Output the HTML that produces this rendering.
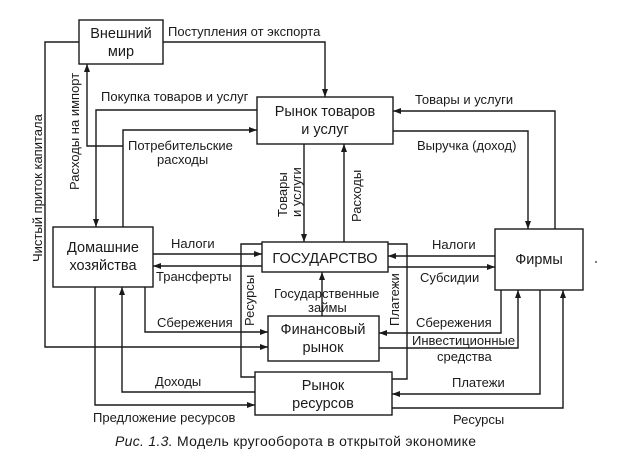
<!DOCTYPE html>
<html><head><meta charset="utf-8"><style>
html,body{margin:0;padding:0;background:#fff;}
svg{display:block;font-family:"Liberation Sans",sans-serif;}
text{fill:#1a1a1a;}
.l{font-size:13px;}
.b{font-size:14.5px;}
</style></head><body>
<svg width="623" height="466" viewBox="0 0 623 466" xmlns="http://www.w3.org/2000/svg">
<defs><marker id="a" markerWidth="8" markerHeight="6" refX="8" refY="3" orient="auto" markerUnits="userSpaceOnUse"><path d="M0,0 L8,3 L0,6 z" fill="#1a1a1a"/></marker></defs>
<g fill="none" stroke="#1a1a1a" stroke-width="1.4">
<rect x="79" y="20" width="84" height="44"/>
<rect x="257" y="97" width="136" height="47"/>
<rect x="53" y="227" width="100" height="60"/>
<rect x="262" y="242" width="126" height="30"/>
<rect x="495" y="229" width="88" height="61"/>
<rect x="268" y="316" width="111" height="45"/>
<rect x="255" y="372" width="137" height="43"/>
<polyline points="163,42 325,42 325,97" marker-end="url(#a)"/>
<polyline points="79,42 45,42 45,347 268,347" marker-end="url(#a)"/>
<polyline points="123,146 87,146 87,64" marker-end="url(#a)"/>
<polyline points="123,227 123,130 257,130" marker-end="url(#a)"/>
<polyline points="257,110 96,110 96,227" marker-end="url(#a)"/>
<polyline points="304,144 304,242" marker-end="url(#a)"/>
<polyline points="344,242 344,144" marker-end="url(#a)"/>
<polyline points="555,229 555,111 393,111" marker-end="url(#a)"/>
<polyline points="393,131 528,131 528,229" marker-end="url(#a)"/>
<polyline points="153,254 262,254" marker-end="url(#a)"/>
<polyline points="262,266 153,266" marker-end="url(#a)"/>
<polyline points="495,256 388,256" marker-end="url(#a)"/>
<polyline points="388,267 495,267" marker-end="url(#a)"/>
<polyline points="262,244 241,244 241,377 255,377"/>
<polyline points="388,244 407,244 407,379 392,379"/>
<polyline points="322,316 322,272" marker-end="url(#a)"/>
<polyline points="145,287 145,332 268,332" marker-end="url(#a)"/>
<polyline points="501,290 501,333 379,333" marker-end="url(#a)"/>
<polyline points="379,348 518,348 518,290" marker-end="url(#a)"/>
<polyline points="255,392 122,392 122,287" marker-end="url(#a)"/>
<polyline points="95,287 95,405 255,405" marker-end="url(#a)"/>
<polyline points="540,290 540,394 392,394" marker-end="url(#a)"/>
<polyline points="392,408 563,408 563,290" marker-end="url(#a)"/>
</g>
<g class="b" text-anchor="middle">
<text x="121" y="38">Внешний</text><text x="121" y="56">мир</text>
<text x="325" y="116">Рынок товаров</text><text x="325" y="134">и услуг</text>
<text x="103" y="252">Домашние</text><text x="103" y="270">хозяйства</text>
<text x="325" y="263">ГОСУДАРСТВО</text>
<text x="539" y="264">Фирмы</text>
<text x="323" y="334">Финансовый</text><text x="323" y="352">рынок</text>
<text x="323" y="390">Рынок</text><text x="323" y="408">ресурсов</text>
</g>
<g class="l">
<text x="168" y="36">Поступления от экспорта</text>
<text x="101" y="101">Покупка товаров и услуг</text>
<text x="128" y="150">Потребительские</text><text x="157" y="164">расходы</text>
<text x="415" y="104">Товары и услуги</text>
<text x="417" y="150">Выручка (доход)</text>
<text x="171" y="248">Налоги</text>
<text x="156" y="281">Трансферты</text>
<text x="432" y="249">Налоги</text>
<text x="420" y="282">Субсидии</text>
<text x="274" y="298">Государственные</text><text x="308" y="312">займы</text>
<text x="157" y="327">Сбережения</text>
<text x="416" y="327">Сбережения</text>
<text x="412" y="345">Инвестиционные</text><text x="437" y="361">средства</text>
<text x="155" y="386">Доходы</text>
<text x="452" y="387">Платежи</text>
<text x="93" y="422">Предложение ресурсов</text>
<text x="453" y="424">Ресурсы</text>
<text transform="translate(42,262) rotate(-90)">Чистый приток капитала</text>
<text transform="translate(79,190) rotate(-90)">Расходы на импорт</text>
<text transform="translate(287,217) rotate(-90)">Товары</text>
<text transform="translate(301,217) rotate(-90)">и услуги</text>
<text transform="translate(361,222) rotate(-90)">Расходы</text>
<text transform="translate(254,326) rotate(-90)">Ресурсы</text>
<text transform="translate(399,326) rotate(-90)">Платежи</text>
</g>
<text x="115" y="446" style="font-size:14px" textLength="361" lengthAdjust="spacing"><tspan font-style="italic">Рис. 1.3.</tspan> Модель кругооборота в открытой экономике</text>
<circle cx="596" cy="262" r="1" fill="#555"/>
</svg>
</body></html>
